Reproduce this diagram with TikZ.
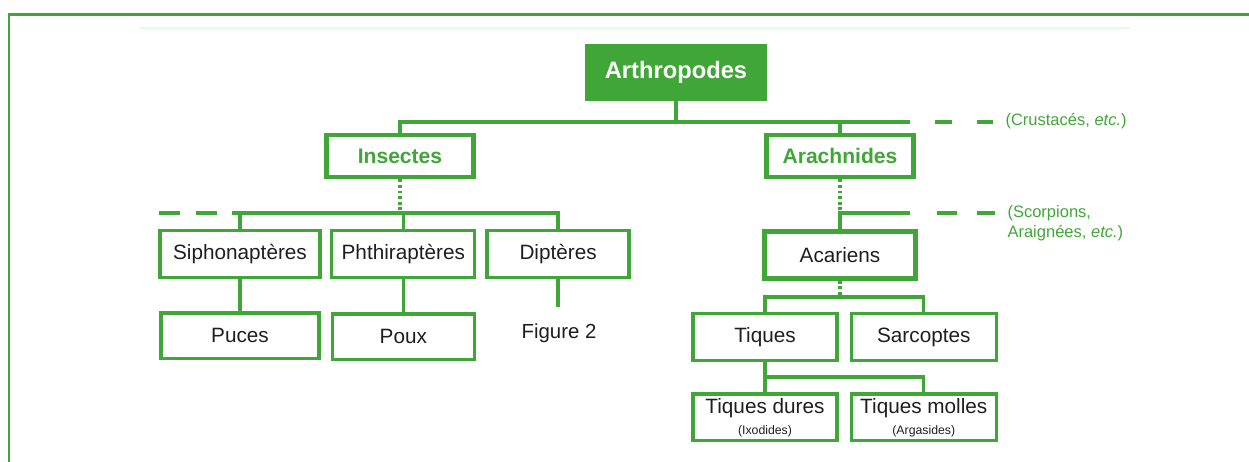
\documentclass[tikz,border=0pt]{standalone}
\usepackage{fontspec}
\setmainfont{Liberation Sans}
\setsansfont{Liberation Sans}
\usetikzlibrary{positioning}

\definecolor{vert}{RGB}{64,166,55}
\definecolor{encre}{RGB}{30,30,30}

\begin{document}
\begin{tikzpicture}[x=0.02cm, y=-0.02cm, semithick,
        taxon/.style={draw=vert, line width=1.9pt, inner sep=0pt, minimum height=0.94cm,
                      text=encre, align=center, font=\fontsize{11.8}{13}\selectfont},
        groupe/.style={taxon, line width=2.6pt, minimum height=0.84cm, text=vert,
                       font=\fontsize{12}{14}\selectfont\bfseries},
        racine/.style={fill=vert, inner sep=0pt, minimum width=3.66cm, minimum height=1.14cm,
                       text=white, font=\fontsize{13.5}{15}\selectfont\bfseries},
        link/.style={draw=vert, line width=1.9pt},
        dotlink/.style={link, dash pattern=on 1.6pt off 1.6pt},
        note/.style={text=vert, align=left, inner sep=0pt, font=\fontsize{9.4}{11.3}\selectfont}]
    \useasboundingbox (0,0) rectangle (1249,461);
    % cadre
    \draw[vert, line width=1.7pt] (1260,14) -- (9,14) -- (9,470);
    \draw[green!12, line width=0.6pt] (140,28) -- (1130,28);

    % niveaux superieurs
    \node[racine]                          (arth)   at (676,72)  {Arthropodes};
    \node[groupe, minimum width=2.94cm]    (ins)    at (400,156) {Insectes};
    \node[groupe, minimum width=2.94cm]    (arach)  at (840,156) {Arachnides};

    % insectes
    \node[taxon, minimum width=3.2cm]      (sipho)  at (240,254)           {Siphonapt\`eres};
    \node[taxon, minimum width=2.86cm]     (phthi)  [right=0.17cm of sipho]  {Phthirapt\`eres};
    \node[taxon, minimum width=2.84cm]     (dipt)   [right=0.18cm of phthi] {Dipt\`eres};
    \node[taxon, minimum width=3.16cm, minimum height=0.92cm] (puces) [below=0.64cm of sipho] {Puces};
    \node[taxon, minimum width=2.84cm, minimum height=0.92cm] (poux) [below=0.66cm of phthi] {Poux};
    \node[font=\fontsize{11.6}{13}\selectfont, text=encre] (fig) at (559,333) {Figure 2};

    % arachnides
    \node[taxon, line width=2.6pt, minimum width=3.02cm] (acar) at (840,255) {Acariens};
    \node[taxon, minimum width=2.88cm]     (tiques) at (765,337)            {Tiques};
    \node[taxon, minimum width=2.9cm]      (sarco)  [right=0.22cm of tiques] {Sarcoptes};
    \node[taxon, minimum width=2.88cm]     (tdures) [below=0.6cm of tiques]  {Tiques dures\\[-1pt]{\fontsize{7}{8}\selectfont(Ixodides)}};
    \node[taxon, minimum width=2.9cm]      (tmolles)[below=0.6cm of sarco]   {Tiques molles\\[-1pt]{\fontsize{7}{8}\selectfont(Argasides)}};

    % notes
    \node[note, anchor=west] (crust) at (1005,121) {(Crustac\'es, \textit{etc.})};
    \node[note, anchor=west] (scorp) at (1007,223) {(Scorpions,\\Araign\'ees, \textit{etc.})};

    % reperes
    \coordinate (t1) at (910,122);
    \coordinate (i1) at (232,213);
    \coordinate (a1) at (910,213);
    \coordinate (k1) at (840,297);
    \coordinate (q1) at (765,377);
    \coordinate (dstub) at (559,307);

    % liaisons
    \draw[link]    (arth) -- (arth.south |- t1);
    \draw[link]    (ins.north) |- (t1);
    \draw[link]    (arach.north) -- (arach.north |- t1);
    \draw[link, dash pattern=on 9.6pt off 14.2pt] (935,122) -- (993,122);

    \draw[dotlink] (ins.south) -- (ins.south |- i1);
    \draw[link]    (dipt.north) |- (i1);
    \draw[link]    (sipho.north) -- (sipho.north |- i1);
    \draw[link]    (phthi.north) -- (phthi.north |- i1);
    \draw[link, dash pattern=on 11.9pt off 9.1pt] (159,213) -- (217,213);
    \draw[link]    (sipho) -- (puces);
    \draw[link]    (phthi) -- (poux);
    \draw[link]    (dipt.south) -- (dipt.south |- dstub);

    \draw[dotlink] (arach.south) -- (arach.south |- a1);
    \draw[link]    (acar.north) |- (a1);
    \draw[link, dash pattern=on 11.3pt off 11.3pt] (937,213) -- (995,213);

    \draw[dotlink] (acar.south) -- (k1);
    \draw[link]    (tiques.north) -- (tiques.north |- k1) -| (sarco.north);
    \draw[link]    (tiques) -- (tdures);
    \draw[link]    (q1) -| (tmolles.north);
\end{tikzpicture}
\end{document}
